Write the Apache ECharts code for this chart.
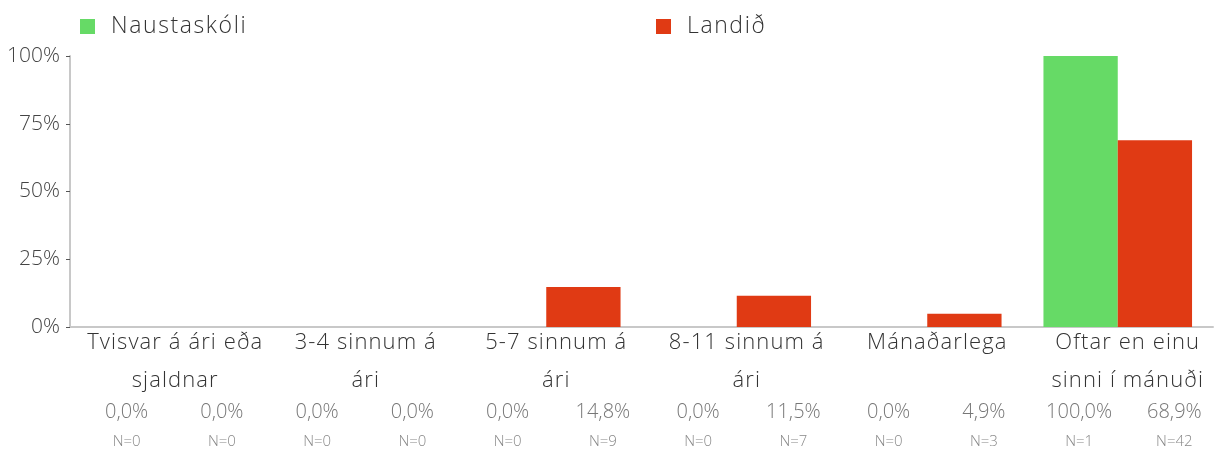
<!DOCTYPE html>
<html>
<head>
<meta charset="utf-8">
<script src="https://cdn.jsdelivr.net/npm/echarts@6/dist/echarts.min.js"></script>
<style>
  html, body { margin: 0; padding: 0; background: #fff; }
  #main { width: 1226px; height: 455px; }
</style>
</head>
<body>
<div id="main"></div>
<script>
// flokkar og gildi
var categories = ['Tvisvar á ári eða\nsjaldnar', '3-4 sinnum á\nári', '5-7 sinnum á\nári', '8-11 sinnum á\nári', 'Mánaðarlega', 'Oftar en einu\nsinni í mánuði'];
var seriesNames = ['Naustaskóli', 'Landið'];
var schoolValues = [0, 0, 0, 0, 0, 100];
var countryValues = [0, 0, 14.8, 11.5, 4.9, 68.9];
var schoolN = [0, 0, 0, 0, 0, 1];
var countryN = [0, 0, 9, 7, 3, 42];
var yTicks = [0, 25, 50, 75, 100];

var FONT = '"Open Sans", Lato, sans-serif';
var GREEN = '#66da66', RED = '#e03a14';

// bil milli stafa í stærri textanum (heiti og skýringar)
var proto = CanvasRenderingContext2D.prototype;
var origFill = proto.fillText;
proto.fillText = function (t, x, y, m) {
    if ('letterSpacing' in this) {
        if (this.font.indexOf('23px') > -1) this.letterSpacing = '1.6px';
        else if (this.font.indexOf('22px') > -1) this.letterSpacing = '1.1px';
        else this.letterSpacing = '0px';
    }
    if (m === undefined) origFill.call(this, t, x, y);
    else origFill.call(this, t, x, y, m);
    if ('letterSpacing' in this) this.letterSpacing = '0px';
};

function pct(v) {
    return v.toFixed(1).replace('.', ',') + '%';
}

// neðri merki: tvö á hvern flokk
var subLabels = [];
for (var i = 0; i < categories.length; i++) {
    subLabels.push('{p|' + pct(schoolValues[i]) + '}\n{n|N=' + schoolN[i] + '}');
    subLabels.push('{p|' + pct(countryValues[i]) + '}\n{n|N=' + countryN[i] + '}');
}

var chart = echarts.init(document.getElementById('main'));
chart.setOption({
    backgroundColor: '#fff',
    animation: false,
    textStyle: { fontFamily: FONT, fontWeight: 300 },
    legend: [
        {
            data: [seriesNames[0]], left: 80, top: 15, padding: 0,
            icon: 'rect', itemWidth: 15, itemHeight: 15,
            textStyle: { fontFamily: FONT, fontWeight: 300, fontSize: 23, color: '#333', padding: [0, 0, 0, 11] }
        },
        {
            data: [seriesNames[1]], left: 656, top: 15, padding: 0,
            icon: 'rect', itemWidth: 15, itemHeight: 15,
            textStyle: { fontFamily: FONT, fontWeight: 300, fontSize: 23, color: '#333', padding: [0, 0, 0, 11] }
        }
    ],
    grid: { left: 70, right: 13, top: 56, bottom: 128, containLabel: false },
    xAxis: [
        {
            type: 'category',
            data: categories,
            axisLine: { lineStyle: { color: '#c8c8c8', width: 2 } },
            axisTick: { show: false },
            axisLabel: {
                interval: 0, margin: -3, fontFamily: FONT, fontWeight: 300, fontSize: 22, lineHeight: 38,
                color: '#333', padding: [0, 0, 0, 20]
            }
        },
        {
            type: 'category',
            data: subLabels,
            position: 'bottom',
            offset: 70,
            axisLine: { show: false },
            axisTick: { show: false },
            axisLabel: {
                interval: 0, margin: 0, padding: [0, 0, 0, 18],
                rich: {
                    p: { fontFamily: FONT, fontWeight: 300, fontSize: 20, lineHeight: 30, color: '#777' },
                    n: { fontFamily: FONT, fontWeight: 300, fontSize: 15, lineHeight: 30, color: '#888' }
                }
            }
        }
    ],
    yAxis: {
        type: 'value',
        min: yTicks[0], max: yTicks[yTicks.length - 1], interval: 25,
        axisLine: { show: true, lineStyle: { color: '#c8c8c8', width: 2 } },
        axisTick: { show: true, length: 4, lineStyle: { color: '#555' } },
        splitLine: { show: false },
        axisLabel: { margin: 10, fontFamily: FONT, fontWeight: 300, fontSize: 21, color: '#444', formatter: '{value}%' }
    },
    series: [
        {
            name: seriesNames[0], type: 'bar', data: schoolValues,
            barGap: 0, barCategoryGap: '22%',
            itemStyle: { color: GREEN }
        },
        {
            name: seriesNames[1], type: 'bar', data: countryValues,
            barGap: 0, barCategoryGap: '22%',
            itemStyle: { color: RED }
        }
    ]
});
</script>
</body>
</html>
